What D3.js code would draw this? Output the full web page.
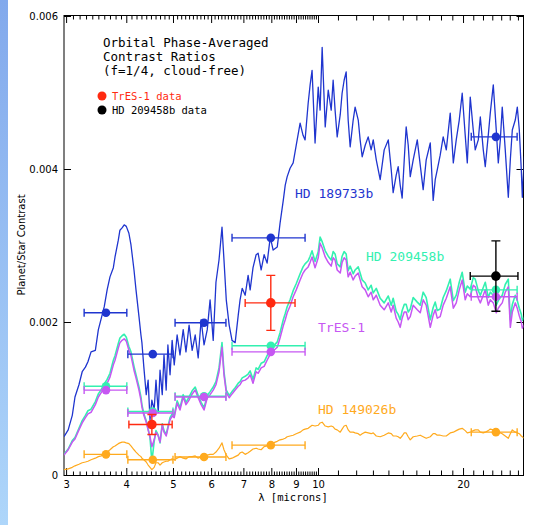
<!DOCTYPE html>
<html>
<head>
<meta charset="utf-8">
<script src="https://cdn.jsdelivr.net/npm/d3@7/dist/d3.min.js"></script>
<style>
  body { margin: 0; background: #fff; }
</style>
</head>
<body>
<div id="chart"></div>
<script>
// wavelength grid of the model spectra (microns)
const wavelength = [
  2.97,3.03,3.09,3.13,3.19,3.24,3.29,3.33,3.38,3.45,
  3.50,3.55,3.60,3.65,3.70,3.76,3.79,3.85,3.88,3.92,
  3.96,4.00,4.05,4.09,4.15,4.19,4.25,4.29,4.31,4.35,
  4.40,4.44,4.48,4.52,4.57,4.61,4.66,4.70,4.75,4.79,
  4.84,4.88,4.93,4.98,5.03,5.10,5.17,5.25,5.32,5.40,
  5.48,5.56,5.64,5.72,5.80,5.89,5.97,6.06,6.14,6.23,
  6.32,6.38,6.45,6.54,6.63,6.73,6.83,6.89,6.96,7.06,
  7.16,7.23,7.33,7.44,7.51,7.62,7.73,7.84,7.96,8.07,
  8.23,8.34,8.47,8.55,8.63,8.75,8.88,9.01,9.18,9.31,
  9.40,9.54,9.63,9.72,9.86,10.01,10.10,10.20,10.35,10.50,
  10.65,10.75,10.85,10.96,11.12,11.22,11.33,11.44,11.55,11.66,
  11.83,11.94,12.12,12.23,12.35,12.53,12.71,12.89,13.02,13.21,
  13.46,13.72,13.99,14.19,14.32,14.53,14.67,14.81,14.95,15.10,
  15.24,15.39,15.54,15.76,16.07,16.30,16.53,16.77,17.10,17.34,
  17.51,17.68,17.93,18.19,18.46,18.81,19.09,19.36,19.64,19.92,
  20.21,20.41,20.70,21.00,21.20,21.51,21.72,22.03,22.24,22.56,
  22.78,23.11,23.44,23.67,23.90,24.12,24.47,24.83,25.07,25.31,
  25.67,25.92,26.17,26.42,26.55,26.80,26.93
];

// model contrasts, in units of 1e-3
const hd189733b = [
  0.50,0.59,0.78,1.02,1.18,1.35,1.41,1.48,1.61,1.63,
  1.90,2.05,2.20,2.42,2.59,2.71,2.85,3.07,3.20,3.23,
  3.27,3.25,3.16,3.01,2.68,2.42,2.07,1.83,1.73,1.41,
  1.05,1.24,0.72,0.98,0.85,1.24,0.82,1.37,1.05,1.57,
  1.11,1.70,1.31,1.76,1.44,1.83,1.57,1.90,1.61,1.96,
  1.63,1.83,1.53,2.03,1.70,1.90,2.29,1.76,2.52,2.81,
  3.24,2.81,2.29,1.96,1.76,1.73,2.09,2.29,2.44,2.35,
  2.61,2.42,2.71,2.88,2.90,2.68,2.88,2.77,3.11,2.94,
  2.98,3.29,3.59,3.79,3.90,4.01,4.08,4.31,4.60,4.44,
  4.38,4.86,5.10,5.29,4.34,5.07,4.77,5.59,4.55,5.03,
  4.77,5.16,4.77,4.42,4.71,4.99,5.16,5.27,4.64,4.29,
  4.64,4.81,4.64,4.38,4.16,4.31,4.42,4.25,4.38,4.12,
  3.86,4.25,4.38,3.99,3.69,3.92,4.03,3.79,3.62,4.12,
  4.55,4.31,3.90,4.12,4.38,4.05,3.73,4.12,4.34,3.59,
  3.86,3.99,4.18,4.42,4.25,4.73,4.08,4.38,4.64,4.99,
  4.44,4.08,4.94,4.51,4.25,4.38,4.68,4.25,4.03,4.44,
  4.73,5.10,4.51,4.08,4.38,4.81,4.25,3.63,4.12,4.51,
  4.64,4.81,4.51,3.99,3.63,4.16,3.92
];
const hd209458b = [
  0.27,0.34,0.45,0.49,0.61,0.71,0.78,0.84,0.86,0.96,
  1.06,1.12,1.19,1.25,1.33,1.50,1.56,1.72,1.79,1.82,
  1.84,1.80,1.68,1.61,1.42,1.31,1.15,1.02,0.92,0.80,
  0.71,0.60,0.49,0.17,0.44,0.58,0.52,0.42,0.67,0.58,
  0.53,0.63,0.75,0.80,0.78,0.97,0.88,1.05,0.95,1.02,
  1.10,1.15,1.04,0.95,0.88,1.04,1.09,1.15,1.22,1.40,
  1.73,1.35,1.11,1.04,1.09,1.14,1.20,1.22,1.27,1.29,
  1.32,1.36,1.25,1.40,1.38,1.46,1.48,1.56,1.64,1.68,
  1.74,1.86,2.03,2.11,2.20,2.29,2.41,2.50,2.63,2.72,
  2.76,2.80,2.86,2.93,2.79,2.92,3.11,3.05,2.93,2.86,
  2.81,2.92,2.89,2.76,2.72,2.86,2.92,2.89,2.67,2.73,
  2.63,2.68,2.72,2.64,2.55,2.51,2.42,2.48,2.38,2.44,
  2.31,2.25,2.34,2.22,2.31,2.14,2.10,2.03,2.15,2.23,
  2.23,2.13,2.17,2.32,2.26,2.22,2.39,2.32,2.03,2.19,
  2.26,2.15,2.17,2.32,2.41,2.56,2.28,2.35,2.52,2.65,
  2.39,2.47,2.43,2.58,2.56,2.41,2.35,2.45,2.52,2.32,
  2.39,2.35,2.22,2.28,2.32,2.35,2.49,2.56,2.03,2.23,
  2.35,2.28,2.18,2.10,2.02,2.06,2.13
];
const tres1 = [
  0.26,0.33,0.43,0.47,0.59,0.68,0.75,0.80,0.82,0.92,
  1.02,1.08,1.14,1.20,1.28,1.44,1.50,1.66,1.73,1.76,
  1.78,1.75,1.63,1.56,1.37,1.27,1.11,0.98,0.89,0.78,
  0.69,0.59,0.50,0.37,0.46,0.56,0.51,0.43,0.65,0.56,
  0.51,0.61,0.72,0.77,0.75,0.94,0.85,1.02,0.92,0.98,
  1.06,1.11,1.01,0.92,0.85,1.01,1.05,1.11,1.18,1.35,
  1.67,1.31,1.08,1.01,1.06,1.11,1.16,1.18,1.23,1.24,
  1.27,1.31,1.20,1.35,1.33,1.40,1.42,1.50,1.58,1.62,
  1.67,1.79,1.95,2.03,2.12,2.21,2.33,2.42,2.55,2.64,
  2.68,2.72,2.78,2.85,2.71,2.84,3.03,2.97,2.85,2.78,
  2.73,2.84,2.81,2.68,2.64,2.78,2.84,2.81,2.59,2.65,
  2.55,2.60,2.64,2.55,2.46,2.42,2.33,2.39,2.29,2.35,
  2.22,2.16,2.25,2.13,2.22,2.05,2.00,1.93,2.05,2.13,
  2.13,2.03,2.07,2.22,2.16,2.12,2.29,2.22,1.93,2.09,
  2.16,2.05,2.07,2.22,2.31,2.46,2.18,2.25,2.42,2.55,
  2.29,2.37,2.33,2.48,2.46,2.31,2.25,2.35,2.42,2.22,
  2.29,2.25,2.12,2.18,2.22,2.25,2.39,2.46,1.93,2.13,
  2.25,2.18,2.08,2.00,1.92,1.96,2.03
];
const hd149026b = [
  0.07,0.08,0.10,0.12,0.14,0.16,0.17,0.18,0.20,0.22,
  0.24,0.25,0.27,0.30,0.33,0.37,0.38,0.41,0.42,0.43,
  0.43,0.42,0.41,0.38,0.33,0.30,0.26,0.24,0.22,0.20,
  0.17,0.13,0.10,0.07,0.10,0.16,0.16,0.13,0.16,0.17,
  0.18,0.18,0.20,0.21,0.20,0.22,0.24,0.22,0.21,0.24,
  0.24,0.25,0.22,0.24,0.26,0.26,0.27,0.27,0.30,0.35,
  0.42,0.33,0.26,0.21,0.22,0.24,0.26,0.29,0.30,0.27,
  0.29,0.31,0.34,0.35,0.34,0.33,0.37,0.38,0.41,0.42,
  0.44,0.46,0.47,0.48,0.50,0.51,0.52,0.54,0.56,0.59,
  0.60,0.61,0.63,0.65,0.64,0.65,0.68,0.69,0.64,0.63,
  0.64,0.63,0.60,0.59,0.56,0.60,0.64,0.65,0.59,0.56,
  0.56,0.55,0.54,0.52,0.54,0.56,0.55,0.54,0.55,0.51,
  0.50,0.52,0.55,0.54,0.51,0.51,0.50,0.48,0.51,0.55,
  0.55,0.50,0.46,0.50,0.51,0.52,0.50,0.48,0.50,0.54,
  0.54,0.52,0.52,0.51,0.51,0.55,0.56,0.58,0.60,0.61,
  0.58,0.55,0.56,0.58,0.59,0.59,0.56,0.55,0.56,0.58,
  0.60,0.59,0.56,0.56,0.55,0.54,0.51,0.48,0.54,0.59,
  0.56,0.55,0.54,0.51,0.50,0.48,0.51
];

// Spitzer band averages of the models (1e-3)
const bandCenter = [3.63, 4.54, 5.80, 7.98, 23.4];
const bandLow = [3.27, 4.03, 5.05, 6.63, 20.8];
const bandHigh = [4.01, 5.00, 6.44, 9.40, 25.9];
const hd189733bBand = [2.12, 1.58, 1.99, 3.10, 4.42];
const hd209458bBand = [1.16, 0.83, 1.03, 1.69, 2.42];
const tres1Band = [1.11, 0.81, 1.02, 1.61, 2.33];
const hd149026bBand = [0.27, 0.20, 0.235, 0.39, 0.56];

// observations (1e-3)
const tresObsWave = [4.52, 7.98];
const tresObsLow = [4.05, 7.06];
const tresObsHigh = [4.98, 8.96];
const tresObsValue = [0.66, 2.25];
const tresObsErr = [0.13, 0.36];
const hd209ObsWave = [23.4];
const hd209ObsLow = [20.7];
const hd209ObsHigh = [26.0];
const hd209ObsValue = [2.60];
const hd209ObsErr = [0.46];

const yTicks = [0, 0.002, 0.004, 0.006];
const xTickLabels = [3, 4, 5, 6, 7, 8, 9, 10, 20];
const titleLines = ["Orbital Phase-Averaged", "Contrast Ratios", "(f=1/4, cloud-free)"];

const colors = {
  hd189: "#1f35cf",
  hd209: "#33f0b0",
  tres: "#c657f2",
  hd149: "#ffaa1e",
  red: "#ff2a10",
  black: "#000"
};

const sans = "DejaVu Sans, sans-serif";
const mono = "DejaVu Sans Mono, monospace";

const W = 535, H = 525;
const box = { left: 64, right: 523.5, top: 15.5, bottom: 475.5 };

const svg = d3.select("#chart").append("svg")
  .attr("width", W).attr("height", H)
  .attr("font-family", sans);

// slide background strip on the left
const defs = svg.append("defs");
const grad = defs.append("linearGradient")
  .attr("id", "strip").attr("x1", 0).attr("y1", 0).attr("x2", 0).attr("y2", 1);
grad.append("stop").attr("offset", "0%").attr("stop-color", "#82a9ec");
grad.append("stop").attr("offset", "100%").attr("stop-color", "#aed6fa");
svg.append("rect").attr("x", 0).attr("y", 0).attr("width", 8).attr("height", H)
  .attr("fill", "url(#strip)");

defs.append("clipPath").attr("id", "clip")
  .append("rect")
  .attr("x", box.left).attr("y", box.top)
  .attr("width", box.right - box.left).attr("height", box.bottom - box.top);

const x = d3.scaleLog().domain([2.97, 26.7]).range([box.left, box.right]);
const y = d3.scaleLinear().domain([0, 0.006]).range([475, 16]);

// axes: ticks drawn inwards on all four sides
const majorX = d3.range(3, 27);
const minorX = d3.range(31, 100).filter(i => i % 10).map(i => i / 10);
const fmtX = d => xTickLabels.includes(d) ? d : "";

function styleAxis(g) {
  g.select(".domain").remove();
  g.selectAll("line").attr("stroke", "#000");
  g.selectAll("text").attr("font-size", 10).attr("fill", "#000")
    .attr("font-family", sans);
}

svg.append("g").attr("transform", `translate(0,${box.bottom})`)
  .call(d3.axisBottom(x).tickValues(xTickLabels).tickFormat(fmtX).tickSize(-7.5).tickPadding(5))
  .call(styleAxis);
svg.append("g").attr("transform", `translate(0,${box.bottom})`)
  .call(d3.axisBottom(x).tickValues(majorX.filter(d => !xTickLabels.includes(d))).tickFormat("").tickSize(-5))
  .call(styleAxis);
svg.append("g").attr("transform", `translate(0,${box.bottom})`)
  .call(d3.axisBottom(x).tickValues(minorX).tickFormat("").tickSize(-4))
  .call(styleAxis);

svg.append("g").attr("transform", `translate(0,${box.top})`)
  .call(d3.axisTop(x).tickValues(xTickLabels).tickFormat("").tickSize(-7.5))
  .call(styleAxis);
svg.append("g").attr("transform", `translate(0,${box.top})`)
  .call(d3.axisTop(x).tickValues(majorX.filter(d => !xTickLabels.includes(d))).tickFormat("").tickSize(-5))
  .call(styleAxis);
svg.append("g").attr("transform", `translate(0,${box.top})`)
  .call(d3.axisTop(x).tickValues(minorX).tickFormat("").tickSize(-4))
  .call(styleAxis);

svg.append("g").attr("transform", `translate(${box.left},0)`)
  .call(d3.axisLeft(y).tickValues(yTicks).tickSize(-7).tickPadding(6)
    .tickFormat(d => d === 0 ? "0" : d3.format(".3f")(d)))
  .call(styleAxis);
svg.append("g").attr("transform", `translate(${box.right},0)`)
  .call(d3.axisRight(y).tickValues(yTicks).tickSize(-7).tickFormat(""))
  .call(styleAxis);

svg.append("rect")
  .attr("x", box.left).attr("y", box.top)
  .attr("width", box.right - box.left).attr("height", box.bottom - box.top)
  .attr("fill", "none").attr("stroke", "#000").attr("stroke-width", 1);

// axis titles
svg.append("text")
  .attr("transform", "translate(25,245) rotate(-90)")
  .attr("text-anchor", "middle").attr("font-size", 10)
  .text("Planet/Star Contrast");
svg.append("text")
  .attr("x", 293).attr("y", 501).attr("text-anchor", "middle")
  .attr("font-size", 10.5).attr("font-family", mono)
  .text("λ [microns]");

// model spectra
const plot = svg.append("g").attr("clip-path", "url(#clip)");
const line = d3.line()
  .x((d, i) => x(wavelength[i]))
  .y(d => y(d / 1000));

function spectrum(values, color, width) {
  plot.append("path")
    .datum(values)
    .attr("d", line)
    .attr("fill", "none")
    .attr("stroke", color)
    .attr("stroke-width", width)
    .attr("stroke-linejoin", "round");
}
spectrum(hd149026b, colors.hd149, 1.2);
spectrum(hd209458b, colors.hd209, 1.6);
spectrum(tres1, colors.tres, 1.5);
spectrum(hd189733b, colors.hd189, 1.3);

// points with horizontal band bars (and optional vertical error bars)
function points(wave, lo, hi, values, errs, color, r) {
  const data = values.map((v, i) => ({
    c: wave[i], lo: lo[i], hi: hi[i], v: v / 1000, e: errs ? errs[i] / 1000 : 0
  }));
  const g = plot.append("g").attr("stroke", color).attr("stroke-width", 1.4);
  g.selectAll(".hbar").data(data).join("line").attr("class", "hbar")
    .attr("x1", d => x(d.lo)).attr("x2", d => x(d.hi))
    .attr("y1", d => y(d.v)).attr("y2", d => y(d.v));
  g.selectAll(".capl").data(data).join("line").attr("class", "capl")
    .attr("x1", d => x(d.lo)).attr("x2", d => x(d.lo))
    .attr("y1", d => y(d.v) - 4).attr("y2", d => y(d.v) + 4);
  g.selectAll(".capr").data(data).join("line").attr("class", "capr")
    .attr("x1", d => x(d.hi)).attr("x2", d => x(d.hi))
    .attr("y1", d => y(d.v) - 4).attr("y2", d => y(d.v) + 4);
  if (errs) {
    g.selectAll(".vbar").data(data).join("line").attr("class", "vbar")
      .attr("x1", d => x(d.c)).attr("x2", d => x(d.c))
      .attr("y1", d => y(d.v + d.e)).attr("y2", d => y(d.v - d.e));
    g.selectAll(".capt").data(data).join("line").attr("class", "capt")
      .attr("x1", d => x(d.c) - 4.5).attr("x2", d => x(d.c) + 4.5)
      .attr("y1", d => y(d.v + d.e)).attr("y2", d => y(d.v + d.e));
    g.selectAll(".capb").data(data).join("line").attr("class", "capb")
      .attr("x1", d => x(d.c) - 4.5).attr("x2", d => x(d.c) + 4.5)
      .attr("y1", d => y(d.v - d.e)).attr("y2", d => y(d.v - d.e));
  }
  g.selectAll("circle").data(data).join("circle")
    .attr("cx", d => x(d.c)).attr("cy", d => y(d.v)).attr("r", r)
    .attr("fill", color).attr("stroke", "none");
}
points(bandCenter, bandLow, bandHigh, hd149026bBand, null, colors.hd149, 4.3);
points(bandCenter, bandLow, bandHigh, hd209458bBand, null, colors.hd209, 4.3);
points(bandCenter, bandLow, bandHigh, tres1Band, null, colors.tres, 4.3);
points(bandCenter, bandLow, bandHigh, hd189733bBand, null, colors.hd189, 4.3);
points(tresObsWave, tresObsLow, tresObsHigh, tresObsValue, tresObsErr, colors.red, 4.8);
points(hd209ObsWave, hd209ObsLow, hd209ObsHigh, hd209ObsValue, hd209ObsErr, colors.black, 4.8);

// curve labels
const labels = [
  { text: "HD 189733b", x: 295, y: 198, color: colors.hd189 },
  { text: "HD 209458b", x: 366, y: 261, color: colors.hd209 },
  { text: "TrES-1", x: 318, y: 332, color: colors.tres },
  { text: "HD 149026b", x: 318, y: 414, color: colors.hd149 }
];
svg.selectAll(".clabel").data(labels).join("text").attr("class", "clabel")
  .attr("x", d => d.x).attr("y", d => d.y)
  .attr("fill", d => d.color).attr("font-size", 13).attr("font-family", mono)
  .text(d => d.text);

// title block
svg.selectAll(".title").data(titleLines).join("text").attr("class", "title")
  .attr("x", 103).attr("y", (d, i) => 47 + i * 14)
  .attr("font-size", 12.5).attr("font-family", mono)
  .text(d => d);

// legend
const legend = [
  { text: "TrES-1 data", color: colors.red },
  { text: "HD 209458b data", color: colors.black }
];
const lg = svg.append("g");
lg.selectAll("circle").data(legend).join("circle")
  .attr("cx", 102).attr("cy", (d, i) => 96 + i * 14).attr("r", 4.5)
  .attr("fill", d => d.color);
lg.selectAll("text").data(legend).join("text")
  .attr("x", 112).attr("y", (d, i) => 100 + i * 14)
  .attr("font-size", 10.5).attr("font-family", mono)
  .attr("fill", d => d.color)
  .text(d => d.text);
</script>
</body>
</html>
